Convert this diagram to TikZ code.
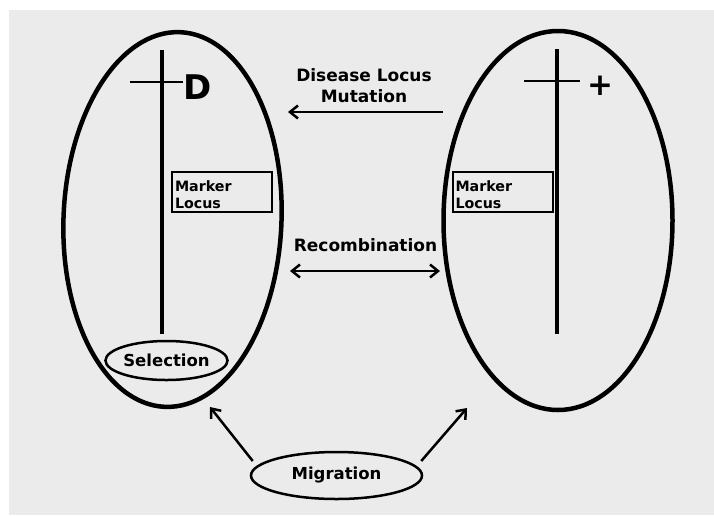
\documentclass[tikz,border=0pt]{standalone}
\usepackage{fontspec}
\setmainfont{DejaVu Sans}
\usetikzlibrary{shapes.geometric}
\usetikzlibrary{arrows.meta}
\definecolor{bggray}{RGB}{235,235,235}

\begin{document}
\begin{tikzpicture}
[
x=1pt, y=-1pt,
popul-a/.style={ellipse,draw,line width=4.5pt,inner sep=0pt},
event-a/.style={ellipse,draw,line width=2.5pt,inner sep=0pt,font=\fontsize{16.5}{19}\selectfont\bfseries},
marker-a/.style={rectangle,draw,line width=2pt,text width=94pt,inner xsep=3pt,inner ysep=0pt,
                 text height=19pt,text depth=21pt,align=left,font=\fontsize{14.25}{17}\selectfont\bfseries},
text-a/.style={align=center,font=\fontsize{17}{21}\selectfont\bfseries},
chrom-a/.style={line width=4pt},
locus-a/.style={line width=2.5pt},
arrow-a/.style={line width=2.5pt,-{Straight Barb[length=8pt,width=13pt]}},
]
\useasboundingbox (0,0) rectangle (714,515);
\fill [bggray] (9,10) rectangle (714,515);

% the two populations
\node (lpop) [popul-a, minimum width=218pt, minimum height=375pt, rotate=-2.3] at (172.5,219.5) {};
\node (rpop) [popul-a, minimum width=229pt, minimum height=379pt] at (558,220.5) {};

% chromosomes with disease locus
\draw [chrom-a] (162,50) -- (162,334);
\draw [locus-a] (130,82) -- (183,82);
\draw [chrom-a] (557,49) -- (557,334);
\draw [locus-a] (524,81) -- (580,81);
\node (dis) [font=\fontsize{34}{34}\selectfont\bfseries] at (197.5,87.5) {D};
\node (wt)  [font=\fontsize{31}{31}\selectfont\bfseries] at (600,86)    {+};

\node (ml) [marker-a] at (222,192)   {Marker\\Locus};
\node (mr) [marker-a] at (502.5,192) {Marker\\Locus};

\node (sel) [event-a, minimum width=109pt, minimum height=39pt] at (166.5,360.5) {Selection};
\node (mig) [event-a, minimum width=171pt, minimum height=47pt] at (336.5,475.5) {Migration};

\node (mut) [text-a, anchor=base] at (364,102.7)   {Disease Locus\\Mutation};
\node (rec) [text-a, anchor=base] at (365.5,251.7) {Recombination};

\coordinate (mutR) at (443,112);
\coordinate (mutL) at (288,112);
\coordinate (recL) at (290,271);
\coordinate (recR) at (440,271);
\coordinate (migL) at (210,407);
\coordinate (migR) at (467,408);

\draw [arrow-a] (mutR) -- (mutL);
\draw [arrow-a, {Straight Barb[length=8pt,width=13pt]}-{Straight Barb[length=8pt,width=13pt]}] (recL) -- (recR);
\draw [arrow-a] ([shift={(3,-14.5)}]mig.west) -- (migL);
\draw [arrow-a] ([shift={(-2,-14.5)}]mig.east) -- (migR);
\end{tikzpicture}
\end{document}
